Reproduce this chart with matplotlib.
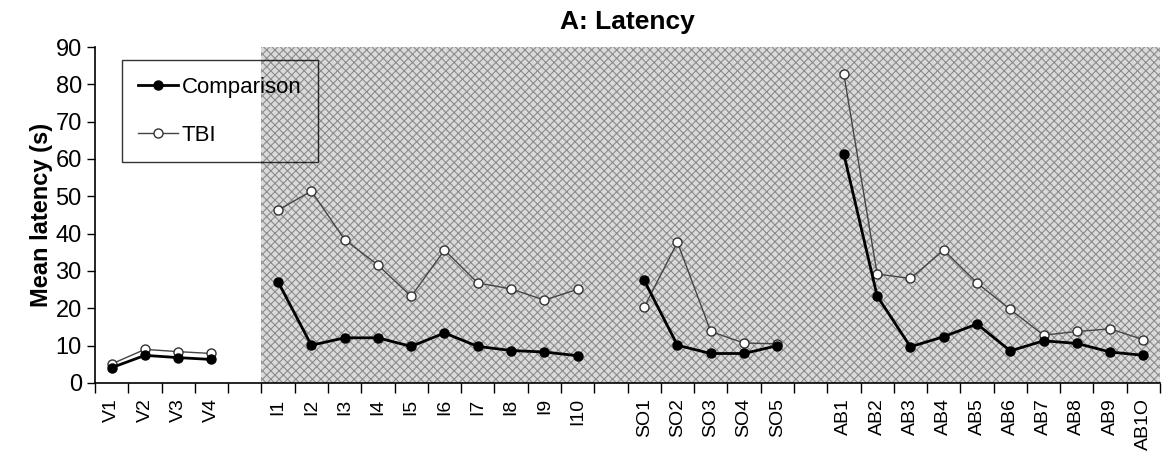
import matplotlib.pyplot as plt
import numpy as np

plt.rcParams['font.family'] = ['Liberation Sans', 'DejaVu Sans']

# categories per block
v_labels = ['V1', 'V2', 'V3', 'V4']
i_labels = ['I1', 'I2', 'I3', 'I4', 'I5', 'I6', 'I7', 'I8', 'I9', 'I10']
so_labels = ['SO1', 'SO2', 'SO3', 'SO4', 'SO5']
ab_labels = ['AB1', 'AB2', 'AB3', 'AB4', 'AB5', 'AB6', 'AB7', 'AB8', 'AB9', 'AB1O']

# mean latency (s)
comp_v = [4.1, 7.4, 6.8, 6.3]
tbi_v = [5.1, 9.0, 8.4, 7.9]
comp_i = [27.1, 10.1, 12.1, 12.1, 9.8, 13.4, 9.8, 8.7, 8.3, 7.3]
tbi_i = [46.3, 51.4, 38.4, 31.6, 23.2, 35.6, 26.8, 25.2, 22.2, 25.1]
comp_so = [27.5, 10.1, 7.9, 7.9, 10.0]
tbi_so = [20.3, 37.7, 13.8, 10.7, 10.5]
comp_ab = [61.3, 23.3, 9.7, 12.4, 15.8, 8.6, 11.3, 10.6, 8.3, 7.4]
tbi_ab = [82.7, 29.2, 28.0, 35.6, 26.8, 19.7, 12.8, 13.8, 14.5, 11.6]

blocks = [
    (v_labels, comp_v, tbi_v),
    (i_labels, comp_i, tbi_i),
    (so_labels, comp_so, tbi_so),
    (ab_labels, comp_ab, tbi_ab),
]

plt.rcParams['hatch.linewidth'] = 0.8
plt.rcParams['hatch.color'] = '#8c8c8c'

fig = plt.figure(figsize=(11.7, 4.59), dpi=100)
ax = fig.add_axes([0.0812, 0.1656, 0.9103, 0.732])

pos = 0
xticks, xlabels = [], []
first_block_end = None
for n, (labs, comp, tbi) in enumerate(blocks):
    x = np.arange(pos, pos + len(labs))
    l1, = ax.plot(x, comp, color='black', lw=2.0, marker='o', ms=6.5,
                  mfc='black', mec='black', zorder=4)
    l2, = ax.plot(x, tbi, color='#444444', lw=1.0, marker='o', ms=6.5,
                  mfc='white', mec='#333333', mew=1.0, zorder=3)
    xticks += list(x)
    xlabels += labs
    if n == 0:
        first_block_end = x[-1] + 1
    pos = x[-1] + 2
last = pos - 2

ax.axvspan(first_block_end + 0.5, last + 0.5, facecolor='#dadada',
           edgecolor='#8c8c8c', hatch='xxxx', lw=0, zorder=0)

ax.set_xlim(-0.5, last + 0.5)
ax.set_ylim(0, 90)
ax.set_yticks(range(0, 91, 10))
ax.tick_params(axis='y', labelsize=17, length=6, width=1, direction='out')
ax.set_xticks(xticks)
ax.set_xticklabels(xlabels, rotation=90, fontsize=14)
ax.set_xticks(np.arange(-0.5, last + 1, 1), minor=True)
ax.tick_params(axis='x', which='major', length=0, pad=11)
ax.tick_params(axis='x', which='minor', length=7, width=1, direction='out')

for s in ['top', 'right']:
    ax.spines[s].set_visible(False)
ax.spines['left'].set_linewidth(1.2)
ax.spines['bottom'].set_linewidth(1.2)

ax.set_ylabel('Mean latency (s)', fontsize=17, fontweight='bold', labelpad=2)
ax.set_title('A: Latency', fontsize=19, fontweight='bold', pad=13)

leg = ax.legend([l1, l2], ['Comparison', 'TBI'], loc='upper left',
                bbox_to_anchor=(0.025, 0.96), fontsize=16, fancybox=False,
                edgecolor='black', facecolor='none', framealpha=None,
                borderpad=0.75, labelspacing=1.2, handlelength=1.8,
                handletextpad=0.15, borderaxespad=0)
leg.get_frame().set_linewidth(1.0)

plt.savefig('out.png', dpi=100)
